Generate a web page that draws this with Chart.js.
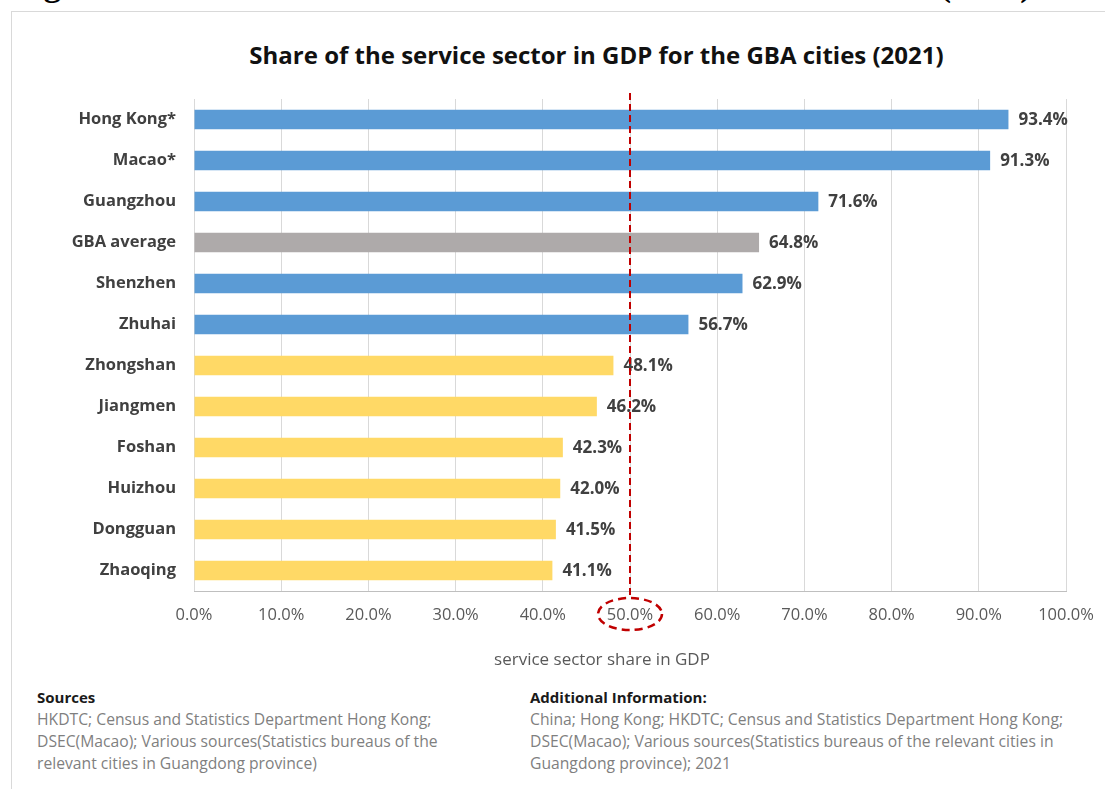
<!DOCTYPE html>
<html>
<head>
<meta charset="utf-8">
<script src="https://cdn.jsdelivr.net/npm/chart.js@4.4.1/dist/chart.umd.min.js"></script>
<style>
  html, body { margin: 0; padding: 0; background: #fff; width: 1105px; height: 789px; overflow: hidden; position: relative; font-family: "Open Sans", sans-serif; }
  #fig { position: absolute; left: 13px; top: -30px; font-family: "Liberation Serif", serif; font-weight: bold; font-size: 28px; line-height: 28px; white-space: nowrap; color: #000; }
  #frame { position: absolute; left: 11px; top: 11px; width: 1200px; height: 900px; border: 1px solid #d9d9d9; box-sizing: border-box; }
  #title { position: absolute; left: 0; width: 1193px; top: 40px; text-align: center; font-size: 24px; font-weight: bold; color: #111; line-height: 30px; white-space: nowrap; }
  #axisTitle { position: absolute; left: 0; width: 1204px; top: 647px; text-align: center; font-size: 17px; color: #595959; line-height: 24px; white-space: nowrap; }
  #chartBox { position: absolute; left: 0; top: 80px; width: 1105px; height: 600px; }
  .foot { position: absolute; top: 686px; font-size: 15.7px; line-height: 22px; color: #7f7f7f; white-space: nowrap; }
  .foot b { color: #1a1a1a; display: block; font-size: 15px; }
</style>
</head>
<body>
<div id="fig">Figure 1: Share of the service sector in GDP for the GBA cities (2021)</div>
<div id="frame"></div>
<div id="title">Share of the service sector in GDP for the GBA cities (2021)</div>
<div id="chartBox"><canvas id="c"></canvas></div>
<div id="axisTitle">service sector share in GDP</div>
<div class="foot" style="left:37px;"><b>Sources</b>HKDTC; Census and Statistics Department Hong Kong;<br>DSEC(Macao); Various sources(Statistics bureaus of the<br>relevant cities in Guangdong province)</div>
<div class="foot" style="left:530px;"><b>Additional Information:</b>China; Hong Kong; HKDTC; Census and Statistics Department Hong Kong;<br>DSEC(Macao); Various sources(Statistics bureaus of the relevant cities in<br>Guangdong province); 2021</div>
<script>
const categories = ["Hong Kong*","Macao*","Guangzhou","GBA average","Shenzhen","Zhuhai","Zhongshan","Jiangmen","Foshan","Huizhou","Dongguan","Zhaoqing"];
const shareValues = [93.4,91.3,71.6,64.8,62.9,56.7,48.1,46.2,42.3,42.0,41.5,41.1];
const groups = ["above","above","above","average","above","above","below","below","below","below","below","below"];
const groupColors = { above: "#5b9bd5", average: "#aeaaaa", below: "#ffd966" };
const xTicks = [0,10,20,30,40,50,60,70,80,90,100];
const thresholdValue = 50;

// fit the clipped figure caption width
(function(){
  const f = document.getElementById('fig');
  const target = 1019;
  const w = f.getBoundingClientRect().width;
  if (w > 0) { f.style.fontSize = (28 * target / w) + 'px'; }
})();

const labelPlugin = {
  id: 'barLabels',
  afterDatasetsDraw(chart) {
    const ctx = chart.ctx;
    const meta = chart.getDatasetMeta(0);
    ctx.save();
    ctx.font = "bold 17px 'Open Sans', sans-serif";
    ctx.fillStyle = "#404040";
    ctx.textAlign = "left";
    ctx.textBaseline = "middle";
    meta.data.forEach((bar, i) => {
      ctx.fillText(shareValues[i].toFixed(1) + "%", bar.x + 10, bar.y + 1);
    });
    ctx.restore();
  },
  afterDraw(chart) {
    const ctx = chart.ctx;
    const xs = chart.scales.x;
    const px = xs.getPixelForValue(thresholdValue);
    const area = chart.chartArea;
    ctx.save();
    ctx.strokeStyle = "#c00000";
    ctx.lineWidth = 2;
    ctx.setLineDash([7, 4]);
    ctx.beginPath();
    ctx.moveTo(px, area.top - 6);
    ctx.lineTo(px, area.bottom + 5);
    ctx.stroke();
    ctx.lineWidth = 2.5;
    ctx.setLineDash([8, 5]);
    ctx.beginPath();
    ctx.ellipse(px, area.bottom + 23, 32, 16, 0, 0, Math.PI * 2);
    ctx.stroke();
    ctx.restore();
  }
};

new Chart(document.getElementById('c'), {
  type: 'bar',
  data: {
    labels: categories,
    datasets: [{
      data: shareValues,
      backgroundColor: groups.map(g => groupColors[g]),
      borderWidth: 0,
      categoryPercentage: 1.0,
      barPercentage: 0.47
    }]
  },
  options: {
    indexAxis: 'y',
    responsive: true,
    maintainAspectRatio: false,
    animation: false,
    layout: { padding: { top: 19, right: 39, left: 0, bottom: 0 } },
    plugins: { legend: { display: false }, tooltip: { enabled: false }, title: { display: false } },
    scales: {
      x: {
        min: 0, max: 100,
        afterBuildTicks(s) { s.ticks = xTicks.map(v => ({ value: v })); },
        afterFit(s) { s.height = 89; s.paddingLeft = 0; s.paddingRight = 0; },
        grid: { color: "#d9d9d9", lineWidth: 1, drawTicks: false },
        border: { color: "#bfbfbf", width: 1 },
        ticks: {
          padding: 14,
          color: "#595959",
          font: { family: "'Open Sans', sans-serif", size: 16.5 },
          callback: v => v.toFixed(1) + "%"
        }
      },
      y: {
        afterFit(s) { s.width = 194; s.paddingTop = 0; s.paddingBottom = 0; },
        grid: { display: false, drawTicks: false },
        border: { display: false },
        ticks: {
          padding: 18,
          color: "#404040",
          font: { family: "'Open Sans', sans-serif", size: 16.5, weight: 'bold' }
        }
      }
    }
  },
  plugins: [labelPlugin]
});
</script>
</body>
</html>
